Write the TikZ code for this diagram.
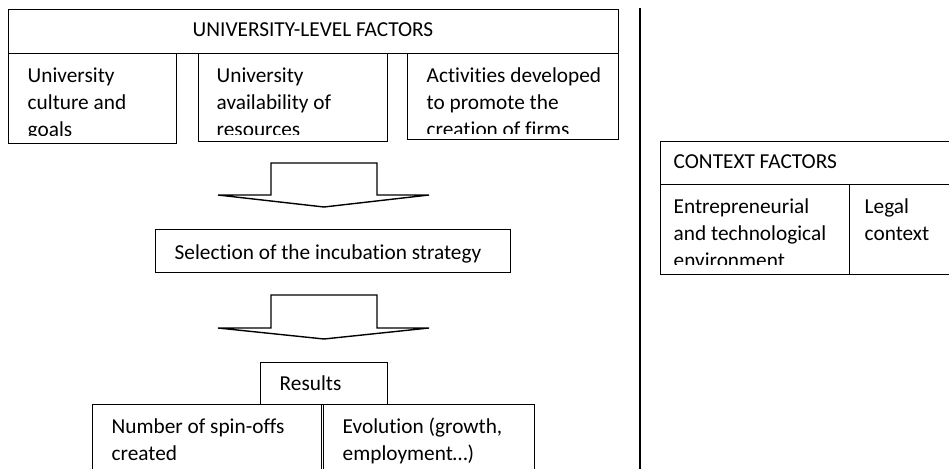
\documentclass[tikz,border=0pt]{standalone}
\usepackage{fontspec}
\setmainfont{Carlito}[Ligatures=NoCommon]
\usetikzlibrary{positioning}

\begin{document}
\begin{tikzpicture}[x=1pt, y=-1pt, line width=1.4pt]
    \tikzstyle{frame} = [draw, line width=1.4pt, inner sep=0pt, anchor=north west]
    \tikzstyle{txt} = [anchor=base west, inner sep=0pt, align=left,
	font=\fontsize{21.3}{27}\selectfont]

	\useasboundingbox (0,0) rectangle (949,468);

	% university-level factors
	\node[frame, minimum width=610, minimum height=44] (univ) at (8,9) {};
	\node[txt, anchor=base] (univtxt) at (313,37) {UNIVERSITY-LEVEL FACTORS};

	\node[frame, minimum width=168, minimum height=90] (culture) at (8,53) {};
	\node[frame, minimum width=189, minimum height=88] (resources) at (198,53) {};
	\node[frame, minimum width=211, minimum height=86] (activities) at (407,53) {};

	% last baseline is the anchor, so the third (cut) line sits at 136
	\begin{scope}
		\clip (8,53) rectangle (176,135);
		\node[txt] (culturetxt) at (27,136) {University\\culture and\\goals};
	\end{scope}
	\begin{scope}
		\clip (198,53) rectangle (387,134);
		\node[txt] (resourcestxt) at (216,136) {University\\availability of\\resources};
	\end{scope}
	\begin{scope}
		\clip (407,53) rectangle (618,133);
		\node[txt] (activitiestxt) at (426,136) {Activities developed\\to promote the\\creation of firms};
	\end{scope}

	% block arrows
	\draw (271,163) -- (377,163) -- (377,195) -- (429,195) -- (324,207)
		-- (218,195) -- (271,195) -- cycle;

	\node[frame, minimum width=355, minimum height=43] (selection) at (155,229) {};
	\node[txt] (selectiontxt) at (174,259) {Selection of the incubation strategy};

	\draw (271,295) -- (377,295) -- (377,328) -- (429,328) -- (324,339)
		-- (218,328) -- (271,328) -- cycle;

	% results
	\node[frame, minimum width=127, minimum height=42] (results) at (260,362) {};
	\node[txt] (resultstxt) at (279,390) {Results};

	\node[frame, minimum width=229, minimum height=80] (spinoffs) at (92,404) {};
	\node[frame, minimum width=211, minimum height=80] (evolution) at (323,404) {};
	\node[txt] (spinoffstxt) at (111,460) {Number of spin-offs\\created};
	\node[txt] (evolutiontxt) at (342,460) {Evolution (growth,\\employment…)};

	% separator
	\coordinate (septop) at (640,8);
	\coordinate (sepbot) at (640,470);
	\draw (septop) -- (sepbot);

	% context factors
	\node[frame, minimum width=300, minimum height=43] (context) at (660,141) {};
	\node[txt] (contexttxt) at (673,168) {CONTEXT FACTORS};

	\node[frame, minimum width=189, minimum height=90] (environment) at (660,184) {};
	\node[frame, minimum width=111, minimum height=90] (legal) at (849,184) {};

	\begin{scope}
		\clip (660,184) rectangle (849,264);
		\node[txt] (environmenttxt) at (673,267) {Entrepreneurial\\and technological\\environment};
	\end{scope}
	\node[txt] (legaltxt) at (864,240) {Legal\\context};
\end{tikzpicture}
\end{document}
